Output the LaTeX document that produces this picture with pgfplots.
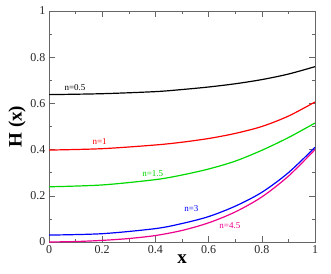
\documentclass[border=0pt]{standalone}
\usepackage{fontspec}
\setmainfont{Liberation Serif}
\usepackage{pgfplots}
\pgfplotsset{compat=1.18}
\begin{document}
\begin{tikzpicture}
\begin{axis}[
  at={(0,0)}, anchor=south west,
  scale only axis, width=266pt, height=231pt,
  xmin=0, xmax=1, ymin=0, ymax=1,
  xtick={0,0.2,...,1}, ytick={0,0.2,...,1},
  minor xtick={0.1,0.3,...,0.9}, minor ytick={0.1,0.3,...,0.9},
  xticklabels={0,0.2,0.4,0.6,0.8,1},
  yticklabels={0,0.2,0.4,0.6,0.8,1},
  tick align=inside,
  major tick length=6pt, minor tick length=3pt,
  every tick/.style={black!60, line width=0.6pt},
  axis line style={black!60, line width=0.8pt},
  tick label style={font=\fontsize{12}{12}\selectfont, black!85},
  /pgf/number format/assume math mode=true,
  xlabel={\textbf{x}}, ylabel={\textbf{H (x)}},
  label style={font=\fontsize{19}{19}\selectfont},
  xlabel style={yshift=6pt},
  ylabel style={yshift=-2pt},
  every axis plot/.append style={line width=1.2pt, smooth},
]
\addplot[black] coordinates {(0,0.638) (0.2,0.642) (0.4,0.651) (0.5,0.660) (0.6,0.671) (0.7,0.685) (0.8,0.703) (0.9,0.727) (1,0.759)};
\addplot[red] coordinates {(0,0.398) (0.2,0.404) (0.4,0.420) (0.5,0.432) (0.6,0.448) (0.7,0.470) (0.8,0.500) (0.9,0.545) (1,0.606)};
\addplot[green!85!black] coordinates {(0,0.239) (0.2,0.247) (0.4,0.270) (0.5,0.290) (0.6,0.316) (0.7,0.350) (0.8,0.397) (0.9,0.452) (1,0.515)};
\addplot[blue] coordinates {(0,0.030) (0.2,0.036) (0.4,0.058) (0.5,0.080) (0.6,0.110) (0.7,0.155) (0.8,0.215) (0.9,0.300) (1,0.410)};
\addplot[magenta] coordinates {(0,0.000) (0.1,0.002) (0.2,0.007) (0.3,0.015) (0.4,0.028) (0.5,0.050) (0.6,0.083) (0.7,0.130) (0.8,0.195) (0.9,0.285) (1,0.400)};
\node[black, font=\fontsize{9}{9}\selectfont] at (axis cs:0.098,0.668) {n=0.5};
\node[red, font=\fontsize{9}{9}\selectfont] at (axis cs:0.19,0.433) {n=1};
\node[green!85!black, font=\fontsize{9}{9}\selectfont] at (axis cs:0.39,0.296) {n=1.5};
\node[blue, font=\fontsize{9}{9}\selectfont] at (axis cs:0.535,0.145) {n=3};
\node[magenta, font=\fontsize{9}{9}\selectfont] at (axis cs:0.68,0.073) {n=4.5};
\end{axis}
\pgfresetboundingbox
\useasboundingbox (-49pt,-31pt) rectangle (282pt,242pt);
\end{tikzpicture}
\end{document}
